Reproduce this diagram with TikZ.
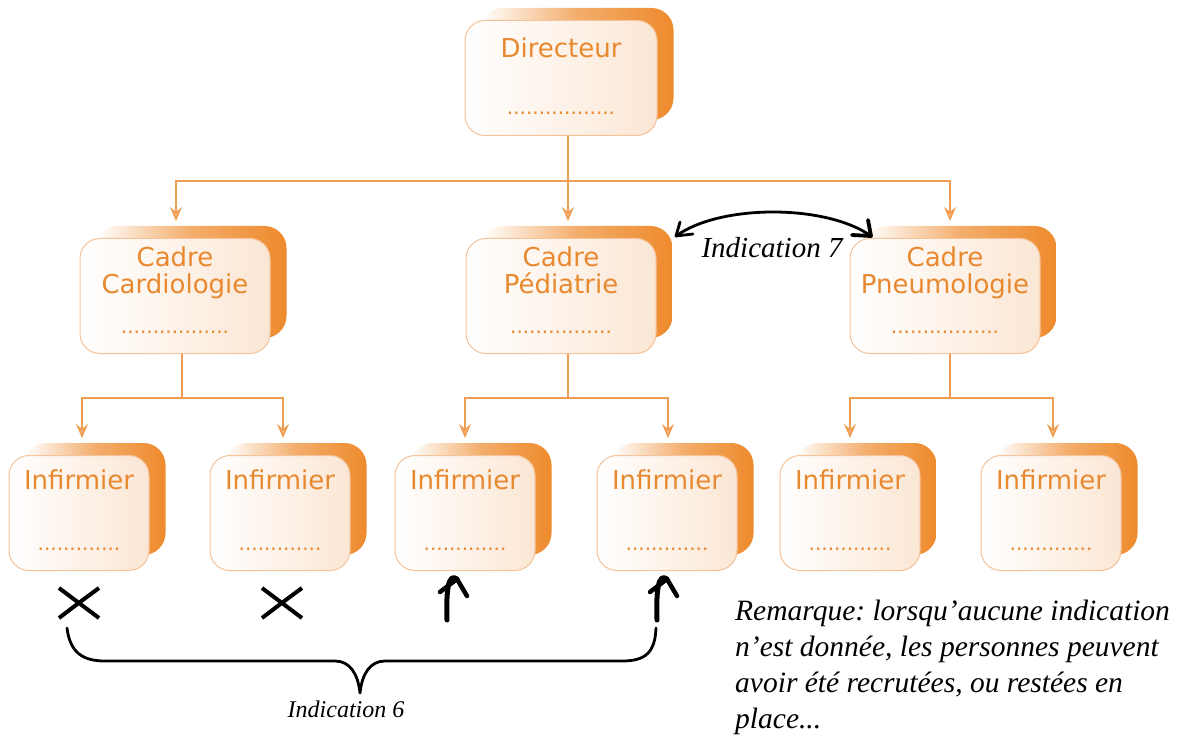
\documentclass[tikz,border=0pt]{standalone}
\usepackage{fontspec}
\setmainfont{Liberation Serif}
\newfontfamily\boxfont{DejaVu Sans}
\usetikzlibrary{arrows.meta,calc,backgrounds}
\definecolor{org}{HTML}{EE8A2C}
\definecolor{orgtext}{HTML}{E8892F}
\definecolor{orgline}{HTML}{EF9D52}
\definecolor{orgborder}{HTML}{F4C39A}
\definecolor{orgfill}{HTML}{FBE6D4}
\definecolor{orgtip}{HTML}{F7B373}
\newcommand\orgunit[7]{% name, cx, top, width, title offset, title, dots
  \node[front, minimum width=#4] (#1) at (#2,#3) {};
  \begin{scope}[on background layer]
    \shade[left color=white, right color=org, middle color=org!70, rounded corners=22pt]
      ($(#1.south west)+(16,-16)$) rectangle ($(#1.north east)+(16,-12)$);
  \end{scope}
  \node[title] (#1-t) at ($(#1.north)+(0,#5)$) {#6};
  \node[dots] (#1-d) at ($(#1.south)+(0,-21)$) {#7};
}
\frenchspacing
\begin{document}
\begin{tikzpicture}[x=1pt,y=-1pt,
  front/.style={draw=orgborder, line width=1pt, rounded corners=20pt, left color=white, right color=orgfill,
                minimum height=115pt, inner sep=0pt, anchor=north},
  title/.style={font=\boxfont\fontsize{26}{27}\selectfont, text=orgtext, align=center, anchor=north, inner sep=0pt},
  dots/.style={font=\boxfont\fontsize{20}{20}\selectfont, text=orgtext, inner sep=0pt, anchor=base},
  conn/.style={draw=orgline, line width=1.4pt},
  arr/.style={conn, -{Stealth[length=14pt,width=12pt,inset=5pt,fill=orgtip]}, shorten >=17pt},
  lbl/.style={font=\itshape, inner sep=0pt},
  ink/.style={draw=black, line width=4pt, line cap=round, line join=round},
]
\useasboundingbox (0,0) rectangle (1177,735);

% boxes
\orgunit{dir}{561}{20}{192}{18}{Directeur}{.................}
\orgunit{c1}{175}{238}{190}{9}{Cadre\\Cardiologie}{.................}
\orgunit{c2}{561}{238}{190}{9}{Cadre\\Pédiatrie}{................}
\orgunit{c3}{945}{238}{190}{9}{Cadre\\Pneumologie}{.................}
\orgunit{i1}{79}{455}{140}{15}{Infirmier}{.............}
\orgunit{i2}{280}{455}{140}{15}{Infirmier}{.............}
\orgunit{i3}{465}{455}{140}{15}{Infirmier}{.............}
\orgunit{i4}{667}{455}{140}{15}{Infirmier}{.............}
\orgunit{i5}{850}{455}{140}{15}{Infirmier}{.............}
\orgunit{i6}{1051}{455}{140}{15}{Infirmier}{.............}

% connectors
\draw[conn] ([xshift=7pt]dir.south) -- ++(0,45) coordinate (b0);
\draw[arr] (b0) -| ([xshift=1pt]c1.north);
\draw[arr] (b0) -- ([xshift=7pt]c2.north);
\draw[arr] (b0) -| ([xshift=5pt]c3.north);

\draw[conn] ([xshift=7pt]c1.south) -- ++(0,44) coordinate (b1);
\draw[arr] (b1) -| ([xshift=3pt]i1.north);
\draw[arr] (b1) -| ([xshift=3pt]i2.north);
\draw[conn] ([xshift=7pt]c2.south) -- ++(0,44) coordinate (b2);
\draw[arr] (b2) -| ([xshift=0pt]i3.north);
\draw[arr] (b2) -| ([xshift=1pt]i4.north);
\draw[conn] ([xshift=5pt]c3.south) -- ++(0,44) coordinate (b3);
\draw[arr] (b3) -| ([xshift=0pt]i5.north);
\draw[arr] (b3) -| ([xshift=2pt]i6.north);

% crosses
\draw[ink, line width=4pt, line cap=butt] (59,588) .. controls (75,600) .. (99,618) (59,618) .. controls (80,602) .. (99,588);
\draw[ink, line width=4pt, line cap=butt] (262,588) .. controls (278,600) .. (302,618) (262,618) .. controls (283,602) .. (302,588);

% upward arrows
\coordinate (u3) at (447,620);
\coordinate (u4) at (657,620);
\coordinate (t3) at ([xshift=-8pt,yshift=-8pt]i3.south);
\coordinate (t4) at ([xshift=0pt,yshift=-8pt]i4.south);
\draw[ink, line width=5pt] (u3) .. controls (446,592) and (448,572) .. (t3);
\draw[ink, line width=4.5pt] ($(t3)+(-17,13)$) -- (t3) -- ($(t3)+(10,17)$);
\draw[ink, line width=5pt] (u4) .. controls (656,592) and (658,572) .. (t4);
\draw[ink, line width=4.5pt] ($(t4)+(-17,13)$) -- (t4) -- ($(t4)+(10,17)$);

% brace
\coordinate (bl) at (67,628);
\coordinate (br) at (656,628);
\coordinate (bp) at (360,693);
\draw[ink, line width=2.8pt] (bl) .. controls (70,652) and (82,661) .. (105,661) -- (335,661)
  .. controls (350,661) and (358,674) .. (bp)
  .. controls (362,674) and (370,661) .. (385,661) -- (622,661)
  .. controls (646,661) and (655,652) .. (br);
\node[lbl, font=\itshape\fontsize{24}{26}\selectfont] (ind6) at (346,709) {Indication 6};

% double arrow
\coordinate (dl) at (676,236);
\coordinate (dr) at (871,236);
\draw[ink, line width=2.8pt] (dl) .. controls (720,204) and (826,204) .. (dr);
\draw[ink, line width=2.8pt] ($(dl)+(4,-14)$) -- (dl) -- ($(dl)+(17,-2)$);
\draw[ink, line width=3.8pt] ($(dr)+(-3,-16)$) -- (dr) -- ($(dr)+(-19,-1)$);
\node[lbl, font=\itshape\fontsize{29}{30}\selectfont] (ind7) at (772,248) {Indication 7};

% remark
\node[lbl, font=\itshape\fontsize{29.5}{36}\selectfont, align=left, anchor=north west] (rem) at (735,600)
  {Remarque: lorsqu’aucune indication\\n’est donnée, les personnes peuvent\\avoir été recrutées, ou restées en\\place...};
\end{tikzpicture}
\end{document}
